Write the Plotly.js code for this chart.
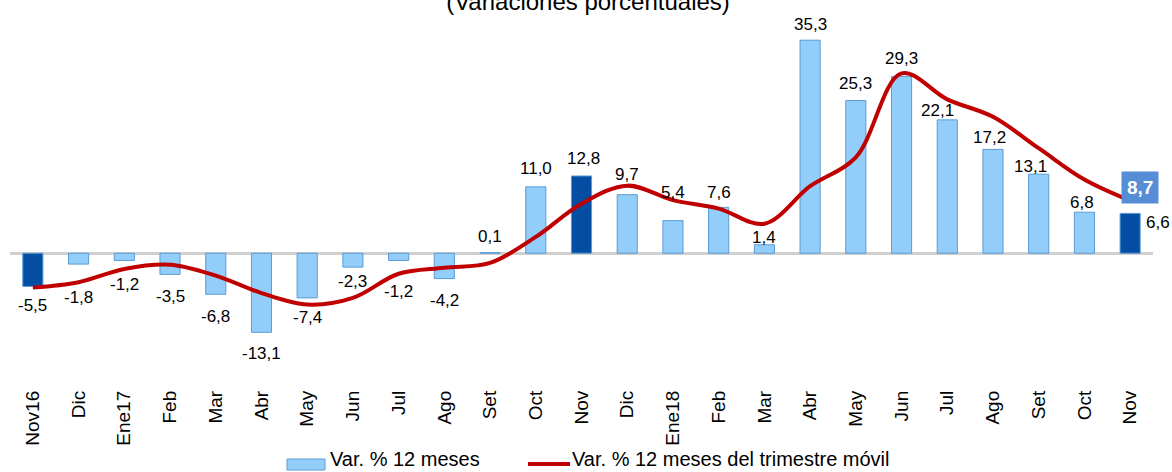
<!DOCTYPE html>
<html>
<head>
<meta charset="utf-8">
<script src="https://cdn.plot.ly/plotly-3.0.1.min.js"></script>
<style>html,body{margin:0;padding:0;background:#fff;}#chart{width:1172px;height:472px;}</style>
</head>
<body>
<div id="chart"></div>
<script>
// ---- data ----
const tickLabels = ["Nov16","Dic","Ene17","Feb","Mar","Abr","May","Jun","Jul","Ago","Set","Oct","Nov","Dic","Ene18","Feb","Mar","Abr","May","Jun","Jul","Ago","Set","Oct","Nov"];
const var12m = [-5.5,-1.8,-1.2,-3.5,-6.8,-13.1,-7.4,-2.3,-1.2,-4.2,0.1,11.0,12.8,9.7,5.4,7.6,1.4,35.3,25.3,29.3,22.1,17.2,13.1,6.8,6.6];
const varTrim = [-5.7,-4.8,-2.6,-1.9,-3.7,-6.6,-8.5,-7.4,-3.4,-2.4,-1.6,2.7,8.2,11.2,8.8,7.4,4.9,11.1,15.9,29.8,25.5,22.6,17.4,12.2,8.7];
const highlighted = [0,12,24];
const seriesNames = ['Var. % 12 meses', 'Var. % 12 meses del trimestre móvil'];
const subtitle = '(Variaciones porcentuales)';

// ---- label style offsets (px) ----
const labelYShift = [-19,-33,-24,-22,-22,-21,-20,-14,-31,-22,16,18,17,20,28,15,7,16,17,18,9,12,8,10,-9];
const labelXShift = [0,0,0,0,0,0,0,0,0,0,0,0,2,0,0,0,0,0,0,0,-10,-3,-8,-2,28];

const xIdx = tickLabels.map((_, i) => i);
const fmt = v => v.toFixed(1).replace('.', ',');
const FONT = 'Liberation Sans, Arial, sans-serif';
const LIGHT = '#93CDF9', DARK = '#034EA2', EDGE = '#5B9BD5', RED = '#C00000';

const W = 1172, H = 472;
const M = {l: 10, r: 19, t: 0, b: 86};
const plotW = W - M.l - M.r, plotH = H - M.t - M.b;
const px2paperX = px => (px - M.l) / plotW;
const px2paperY = py => (H - M.b - py) / plotH;

const barColors = xIdx.map(i => highlighted.includes(i) ? DARK : LIGHT);

const traces = [
  {
    type: 'bar', x: xIdx, y: var12m, name: seriesNames[0], showlegend: false,
    marker: {color: barColors, line: {color: EDGE, width: 1}},
    hoverinfo: 'skip'
  },
  {
    type: 'scatter', mode: 'lines', x: xIdx, y: varTrim, name: seriesNames[1], showlegend: false,
    line: {color: RED, width: 4, shape: 'spline', smoothing: 1},
    hoverinfo: 'skip'
  }
];

const annotations = var12m.map((v, i) => ({
  x: i, y: v, xref: 'x', yref: 'y', text: fmt(v), showarrow: false,
  xanchor: 'center', yanchor: 'middle',
  yshift: labelYShift[i], xshift: labelXShift[i],
  font: {family: FONT, size: 17, color: '#000'}
}));
const last = varTrim.length - 1;
annotations.push({
  x: last, y: varTrim[last], xref: 'x', yref: 'y', text: '<b>' + fmt(varTrim[last]) + '</b>',
  showarrow: false, xanchor: 'center', yanchor: 'middle', xshift: 10, yshift: 13,
  bgcolor: '#558ED5', borderpad: 5,
  font: {family: FONT, size: 19, color: '#fff'}
});

// custom legend (wide swatches like the reference)
annotations.push({
  xref: 'paper', yref: 'paper', x: px2paperX(328), y: px2paperY(472), xanchor: 'left', yanchor: 'bottom',
  text: seriesNames[0], showarrow: false, font: {family: FONT, size: 20, color: '#000'}
});
annotations.push({
  xref: 'paper', yref: 'paper', x: px2paperX(570), y: px2paperY(472), xanchor: 'left', yanchor: 'bottom',
  text: seriesNames[1], showarrow: false, font: {family: FONT, size: 20, color: '#000'}
});
const shapes = [
  {type: 'rect', xref: 'paper', yref: 'paper', x0: px2paperX(287), x1: px2paperX(325), y0: px2paperY(470), y1: px2paperY(459),
   fillcolor: LIGHT, line: {color: EDGE, width: 1}},
  {type: 'line', xref: 'paper', yref: 'paper', x0: px2paperX(528), x1: px2paperX(570), y0: px2paperY(464), y1: px2paperY(464),
   line: {color: RED, width: 4}}
];

const layout = {
  width: W, height: H,
  margin: M,
  paper_bgcolor: '#fff', plot_bgcolor: '#fff',
  showlegend: false,
  bargap: 0.56,
  title: {
    text: subtitle,
    x: 588 / W, xref: 'container', xanchor: 'center',
    y: 0.9966, yref: 'container', yanchor: 'middle',
    font: {family: FONT, size: 24, color: '#000'}
  },
  xaxis: {
    range: [-0.5, 24.5], tickmode: 'array', tickvals: xIdx, ticktext: tickLabels,
    tickangle: -90, ticks: '', showline: false, showgrid: false, zeroline: false,
    tickfont: {family: FONT, size: 19, color: '#000'}, fixedrange: true
  },
  yaxis: {
    range: [-22.0, 41.96], showticklabels: false, showgrid: false, ticks: '',
    zeroline: true, zerolinecolor: '#D0D0D0', zerolinewidth: 3, showline: false, fixedrange: true
  },
  annotations: annotations,
  shapes: shapes
};

Plotly.newPlot('chart', traces, layout, {displayModeBar: false, staticPlot: true});
</script>
</body>
</html>
